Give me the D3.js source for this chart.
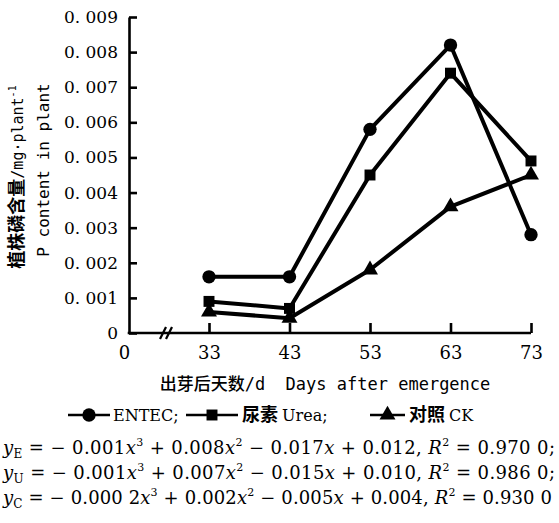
<!DOCTYPE html>
<html>
<head>
<meta charset="utf-8">
<script src="https://cdn.jsdelivr.net/npm/d3@7"></script>
<style>
  body { margin: 0; background: #fff; }
  svg { display: block; }
</style>
</head>
<body>
<svg id="chart" width="559" height="523"></svg>
<script>
const days = [33, 43, 53, 63, 73];
const entec = [0.0016, 0.0016, 0.0058, 0.0082, 0.0028];
const urea = [0.0009, 0.0007, 0.0045, 0.0074, 0.0049];
const ck = [0.0006, 0.00042, 0.0018, 0.0036, 0.0045];
const xTicks = [0, 33, 43, 53, 63, 73];
const yTicks = [0, 0.001, 0.002, 0.003, 0.004, 0.005, 0.006, 0.007, 0.008, 0.009];
const seriesNames = ["ENTEC", "尿素 Urea", "对照 CK"];
const equations = [
  { sub: "E", a: "0.001", b: "0.008", c: "0.017", d: "0.012", r2: "0.970 0;" },
  { sub: "U", a: "0.001", b: "0.007", c: "0.015", d: "0.010", r2: "0.986 0;" },
  { sub: "C", a: "0.000 2", b: "0.002", c: "0.005", d: "0.004", r2: "0.930 0" },
];

const svg = d3.select("#chart");
const serif = "'DejaVu Serif', serif";
const mono = "'DejaVu Sans Mono', monospace";
const cjk = "'Noto Sans CJK SC', sans-serif";

const axisX0 = 129;
const x = d3.scaleLinear().domain([0, 33, 73]).range([124, 209, 531]);
const y = d3.scaleLinear().domain([0, 0.009]).range([333, 17]);

// y axis
const yAxis = svg.append("g")
  .attr("transform", `translate(${axisX0},0)`)
  .call(d3.axisLeft(y).tickValues(yTicks).tickSizeInner(-8).tickSizeOuter(0).tickPadding(11)
    .tickFormat((d) => (d === 0 ? "0" : d3.format(".3f")(d).replace(".", ". "))));
yAxis.attr("font-family", null);
yAxis.select(".domain").attr("stroke", "#000").attr("stroke-width", 2.6);
yAxis.selectAll(".tick line").attr("stroke-width", 2.6);
yAxis.selectAll(".tick text").style("font-family", serif).attr("font-size", 17).attr("fill", "#000")
  .style("white-space", "pre");

// x axis
const xAxis = svg.append("g")
  .attr("transform", `translate(0,${y(0)})`)
  .call(d3.axisBottom(x).tickValues(xTicks).tickSizeInner(-10).tickSizeOuter(0).tickPadding(8)
    .tickFormat(d3.format("d")));
xAxis.attr("font-family", null);
xAxis.select(".domain").remove();
xAxis.selectAll(".tick line").attr("stroke-width", 2.6).attr("opacity", (d) => (d === 0 ? 0 : 1));
xAxis.selectAll(".tick text").style("font-family", serif).attr("font-size", 18).attr("fill", "#000")
  .attr("dy", "1.0em");
xAxis.append("line")
  .attr("x1", axisX0 - 1.3).attr("x2", x(73)).attr("y1", 0).attr("y2", 0)
  .attr("stroke", "#000").attr("stroke-width", 2.6);
// axis break
[163, 169].forEach((bx) => {
  xAxis.append("line")
    .attr("x1", bx - 3).attr("y1", 6).attr("x2", bx + 3).attr("y2", -6)
    .attr("stroke", "#000").attr("stroke-width", 2.2);
});

// lines and markers
const line = d3.line().x((d, i) => x(days[i])).y((d) => y(d));
const series = [entec, urea, ck];
const symbols = [d3.symbolCircle, d3.symbolSquare, d3.symbolTriangle];
const symbolSizes = [140, 120, 110];

series.forEach((values, s) => {
  svg.append("path")
    .datum(values)
    .attr("fill", "none")
    .attr("stroke", "#000")
    .attr("stroke-width", 4)
    .attr("stroke-linejoin", "round")
    .attr("d", line);
  svg.append("g").selectAll("path")
    .data(values)
    .join("path")
    .attr("transform", (d, i) => `translate(${x(days[i])},${y(d)})`)
    .attr("d", d3.symbol().type(symbols[s]).size(symbolSizes[s]))
    .attr("fill", "#000");
});

// y axis titles
svg.append("text")
  .attr("transform", "translate(23,177) rotate(-90)")
  .attr("text-anchor", "middle")
  .attr("fill", "#000")
  .call((t) => {
    t.append("tspan").style("font-family", cjk).attr("font-size", 18).attr("font-weight", 700).text("植株磷含量");
    t.append("tspan").style("font-family", mono).attr("font-size", 15).text("/mg·plant");
    t.append("tspan").style("font-family", mono).attr("font-size", 10).attr("dy", -7).text("-1");
  });
svg.append("text")
  .attr("transform", "translate(49,170) rotate(-90)")
  .attr("text-anchor", "middle")
  .style("font-family", mono)
  .attr("font-size", 16)
  .attr("fill", "#000")
  .text("P content in plant");

// x axis title
svg.append("text")
  .attr("x", 325)
  .attr("y", 390)
  .attr("text-anchor", "middle")
  .attr("fill", "#000")
  .call((t) => {
    t.append("tspan").style("font-family", cjk).attr("font-size", 17).attr("font-weight", 500).text("出芽后天数");
    t.append("tspan").style("font-family", mono).attr("font-size", 17).style("white-space", "pre").text("/d  Days after emergence");
  });

// legend
const legendItems = [
  { x1: 68, x2: 110, tx: 113 },
  { x1: 186, x2: 238, tx: 242 },
  { x1: 370, x2: 405, tx: 409 },
];
legendItems.forEach((item, s) => {
  const g = svg.append("g");
  g.append("line")
    .attr("x1", item.x1).attr("x2", item.x2).attr("y1", 415).attr("y2", 415)
    .attr("stroke", "#000").attr("stroke-width", 2.5);
  g.append("path")
    .attr("transform", `translate(${(item.x1 + item.x2) / 2},415)`)
    .attr("d", d3.symbol().type(symbols[s]).size(symbolSizes[s]))
    .attr("fill", "#000");
  const label = seriesNames[s] + (s < 2 ? ";" : "");
  const t = g.append("text")
    .attr("x", item.tx).attr("y", 421).attr("fill", "#000").attr("font-size", 16);
  const parts = label.split(" ");
  if (parts.length > 1) {
    t.append("tspan").style("font-family", cjk).attr("font-weight", 700).attr("font-size", 18).text(parts[0] + " ");
    t.append("tspan").style("font-family", serif).text(parts.slice(1).join(" "));
  } else {
    t.append("tspan").style("font-family", serif).text(label);
  }
});

// regression equations
equations.forEach((eq, i) => {
  const t = svg.append("text")
    .attr("x", 3)
    .attr("y", 454 + i * 25)
    .style("font-family", serif)
    .attr("font-size", 18)
    .attr("fill", "#000")
    .attr("textLength", i === 2 ? 549 : 552)
    .attr("lengthAdjust", "spacing")
    .style("white-space", "pre");
  t.append("tspan").attr("font-style", "italic").text("y");
  t.append("tspan").attr("font-size", 12).attr("dy", 4).text(eq.sub);
  t.append("tspan").attr("dy", -4).text(" = − " + eq.a);
  t.append("tspan").attr("font-style", "italic").text("x");
  t.append("tspan").attr("font-size", 11).attr("dy", -8).text("3");
  t.append("tspan").attr("dy", 8).text(" + " + eq.b);
  t.append("tspan").attr("font-style", "italic").text("x");
  t.append("tspan").attr("font-size", 11).attr("dy", -8).text("2");
  t.append("tspan").attr("dy", 8).text(" − " + eq.c);
  t.append("tspan").attr("font-style", "italic").text("x");
  t.append("tspan").text(" + " + eq.d + ", ");
  t.append("tspan").attr("font-style", "italic").text("R");
  t.append("tspan").attr("font-size", 11).attr("dy", -8).text("2");
  t.append("tspan").attr("dy", 8).text(" = " + eq.r2);
});
</script>
</body>
</html>
